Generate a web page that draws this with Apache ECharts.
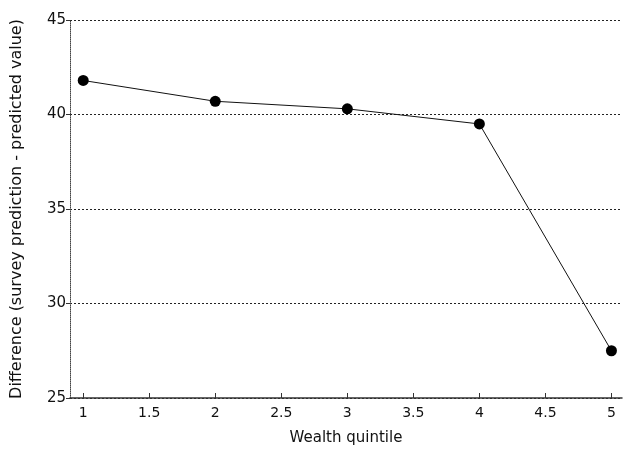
<!DOCTYPE html>
<html>
<head>
<meta charset="utf-8">
<script src="https://cdn.jsdelivr.net/npm/echarts@6/dist/echarts.min.js"></script>
<style>
  html, body { margin: 0; padding: 0; background: #fff; }
  #main { width: 624px; height: 451px; }
</style>
</head>
<body>
<div id="main"></div>
<script>
var quintiles = [1, 2, 3, 4, 5]
var differences = [41.8, 40.7, 40.3, 39.5, 27.5]
var xTicks = [1, 1.5, 2, 2.5, 3, 3.5, 4, 4.5, 5]

var chartDom = document.getElementById('main')
var myChart = echarts.init(chartDom)
var option

option = {
  animation: false,
  textStyle: { fontFamily: 'DejaVu Sans' },
  grid: { left: 70, right: 2, top: 20, bottom: 52 },
  xAxis: {
    type: 'value',
    min: 0.9,
    max: 5.08,
    name: 'Wealth quintile',
    nameLocation: 'middle',
    nameGap: 33,
    nameTextStyle: { fontSize: 15, color: '#111' },
    axisLine: { lineStyle: { color: '#333', width: 1.5 } },
    axisTick: {
      inside: true,
      length: 5,
      customValues: xTicks,
      lineStyle: { color: '#333' }
    },
    axisLabel: {
      customValues: xTicks,
      fontSize: 14,
      color: '#111',
      margin: 8
    },
    splitLine: { show: false }
  },
  yAxis: {
    type: 'value',
    min: 25,
    max: 45,
    interval: 5,
    name: 'Difference (survey prediction - predicted value)',
    nameLocation: 'middle',
    nameGap: 45,
    nameTextStyle: { fontSize: 16, color: '#111' },
    axisLine: { show: true, lineStyle: { color: '#444', width: 1, type: 'dotted' } },
    axisTick: { show: true, length: 4, lineStyle: { color: '#333' } },
    axisLabel: { fontSize: 15, color: '#111', margin: 4 },
    splitLine: { lineStyle: { color: '#222', type: [2, 2], width: 1 } }
  },
  series: [
    {
      type: 'line',
      data: quintiles.map(function (q, i) { return [q, differences[i]] }),
      symbol: 'circle',
      symbolSize: 11,
      itemStyle: { color: '#000' },
      lineStyle: { color: '#111', width: 1 }
    }
  ]
}

option && myChart.setOption(option)
</script>
</body>
</html>
